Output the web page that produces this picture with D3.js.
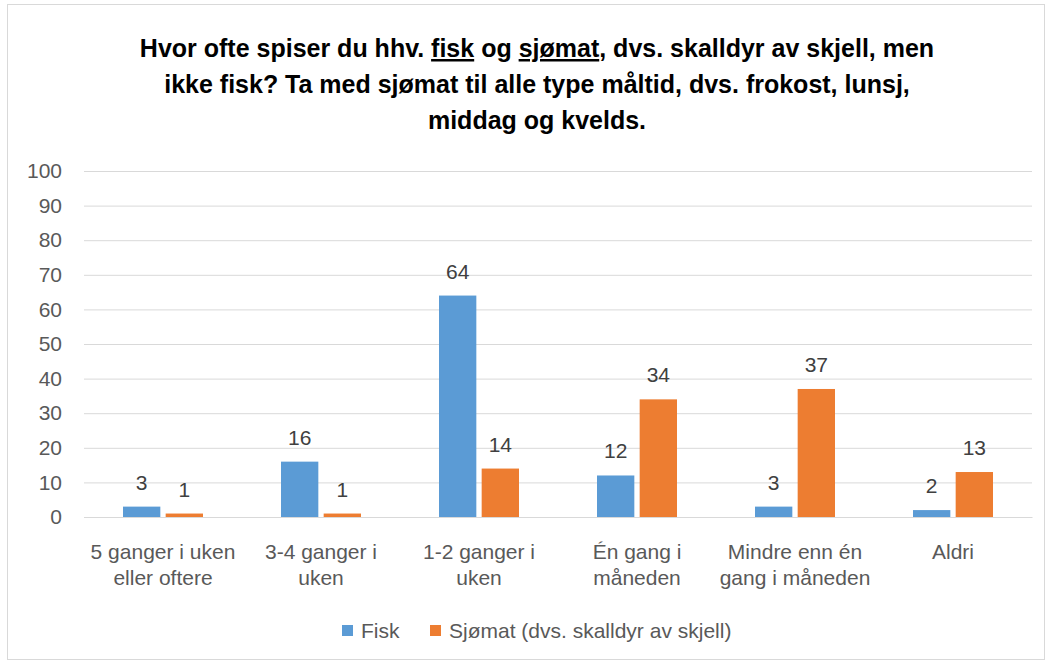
<!DOCTYPE html>
<html>
<head>
<meta charset="utf-8">
<script src="https://cdn.jsdelivr.net/npm/d3@7"></script>
<style>
  body { margin: 0; background: #fff; }
  text { font-family: "Liberation Sans", Arial, sans-serif; }
</style>
</head>
<body>
<div id="chart"></div>
<script>
// data
var categories = [
  ["5 ganger i uken", "eller oftere"],
  ["3-4 ganger i", "uken"],
  ["1-2 ganger i", "uken"],
  ["Én gang i", "måneden"],
  ["Mindre enn én", "gang i måneden"],
  ["Aldri"]
];
var seriesNames = ["Fisk", "Sjømat (dvs. skalldyr av skjell)"];
var fisk = [3, 16, 64, 12, 3, 2];
var sjomat = [1, 1, 14, 34, 37, 13];
var yTicks = [0, 10, 20, 30, 40, 50, 60, 70, 80, 90, 100];
var colors = ["#5b9bd5", "#ed7d31"];

var svgWidth = 1051;
var svgHeight = 664;

var margin = { top: 171, right: 19, bottom: 147, left: 84 };
var width = svgWidth - margin.left - margin.right;
var height = svgHeight - margin.top - margin.bottom;

var svg = d3.select("#chart")
  .append("svg")
  .attr("width", svgWidth)
  .attr("height", svgHeight);

// chart border
svg.append("rect")
  .attr("x", 7.5).attr("y", 4.5)
  .attr("width", 1037).attr("height", 655)
  .attr("fill", "#fff")
  .attr("stroke", "#d9d9d9");

// title
var titleLines = [
  [["Hvor ofte spiser du hhv. ", false], ["fisk", true], [" og ", false], ["sjømat", true], [", dvs. skalldyr av skjell, men", false]],
  [["ikke fisk? Ta med sjømat til alle type måltid, dvs. frokost, lunsj,", false]],
  [["middag og kvelds.", false]]
];
var title = svg.append("text")
  .attr("text-anchor", "middle")
  .attr("font-size", 25)
  .attr("font-weight", "bold")
  .attr("fill", "#000");
titleLines.forEach((line, i) => {
  var first = true;
  line.forEach(part => {
    var t = title.append("tspan").text(part[0]);
    if (first) {
      t.attr("x", 537).attr("y", 57 + i * 36);
      first = false;
    }
    if (part[1]) t.attr("text-decoration", "underline");
  });
});

var chartGroup = svg.append("g")
  .attr("transform", `translate(${margin.left}, ${margin.top})`);

var x0 = d3.scaleBand()
  .domain(d3.range(categories.length))
  .range([0, width]);

var x1 = d3.scaleBand()
  .domain([0, 1])
  .range([39, x0.bandwidth() - 39])
  .paddingInner(10 / 80);

var y = d3.scaleLinear()
  .domain([0, 100])
  .range([height, 0]);

// gridlines
var leftAxis = d3.axisLeft(y).tickValues(yTicks).tickSize(-width).tickFormat(d3.format("d"));
var yAxisG = chartGroup.append("g").call(leftAxis);
yAxisG.select(".domain").remove();
yAxisG.selectAll(".tick line").attr("stroke", "#d9d9d9").attr("stroke-width", 1);
yAxisG.selectAll(".tick text")
  .attr("x", -22)
  .attr("font-size", 21)
  .attr("fill", "#595959")
  .attr("font-family", "Liberation Sans, Arial, sans-serif");

// bars
var groups = chartGroup.selectAll(".grp")
  .data(categories.map((c, i) => [fisk[i], sjomat[i]]))
  .enter()
  .append("g")
  .attr("transform", (d, i) => `translate(${x0(i)}, 0)`);

groups.selectAll("rect")
  .data(d => d)
  .enter()
  .append("rect")
  .attr("x", (d, j) => x1(j))
  .attr("y", d => y(d))
  .attr("width", x1.bandwidth())
  .attr("height", d => height - y(d))
  .attr("fill", (d, j) => colors[j]);

groups.selectAll(".val")
  .data(d => d)
  .enter()
  .append("text")
  .attr("x", (d, j) => x1(j) + x1.bandwidth() / 2)
  .attr("y", d => y(d) - 17)
  .attr("text-anchor", "middle")
  .attr("font-size", 21)
  .attr("fill", "#404040")
  .text(d => d);

// x axis line
var bottomAxis = d3.axisBottom(x0).tickSize(0).tickFormat("");
var xAxisG = chartGroup.append("g")
  .attr("transform", `translate(0, ${height})`)
  .call(bottomAxis);
xAxisG.select(".domain").attr("stroke", "#d9d9d9");

// category labels
chartGroup.selectAll(".cat")
  .data(categories)
  .enter()
  .append("text")
  .attr("text-anchor", "middle")
  .attr("font-size", 21)
  .attr("fill", "#595959")
  .each(function(d, i) {
    var t = d3.select(this);
    d.forEach((line, k) => {
      t.append("tspan")
        .attr("x", x0(i) + x0.bandwidth() / 2)
        .attr("y", height + 42 + k * 26)
        .text(line);
    });
  });

// legend
var legendItems = [[342, 0], [430, 1]];
var legend = svg.selectAll(".leg")
  .data(legendItems)
  .enter()
  .append("g")
  .attr("transform", d => `translate(${d[0]}, 625)`);
legend.append("rect")
  .attr("width", 11).attr("height", 11)
  .attr("fill", d => colors[d[1]]);
legend.append("text")
  .attr("x", 19).attr("y", 13)
  .attr("font-size", 21)
  .attr("fill", "#595959")
  .text(d => seriesNames[d[1]]);
</script>
</body>
</html>
